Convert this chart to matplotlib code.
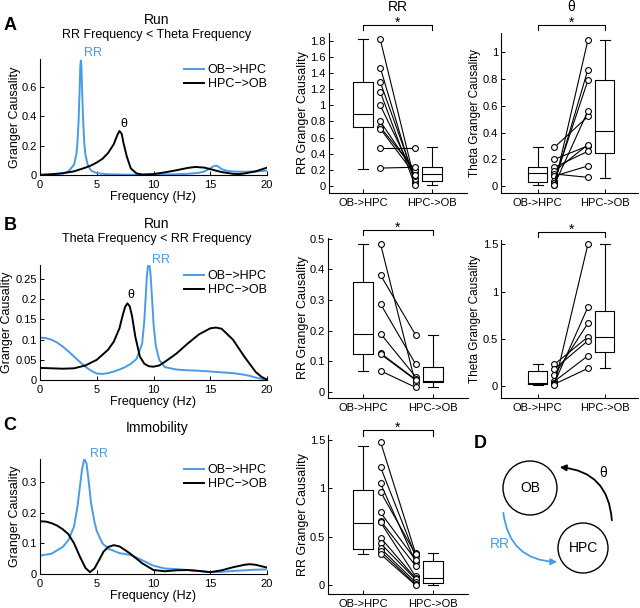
import numpy as np
import matplotlib
matplotlib.use('Agg')
import matplotlib.pyplot as plt
from matplotlib.patches import Circle, FancyArrowPatch
from matplotlib.ticker import FuncFormatter

plt.rcParams['font.family'] = ['Liberation Sans', 'DejaVu Sans']

BLUE = '#4a9be6'
W, H = 640, 608

# ---------------- spectra (Granger causality vs frequency) ----------------
# A: run, RR < theta
a_blue_f = [0, 1, 2, 2.5, 3.0, 3.2, 3.3, 3.4, 3.5, 3.55, 3.6, 3.65, 3.7, 3.8, 3.9, 4.0, 4.2, 4.5, 5, 6, 8, 10, 12, 13, 14, 14.5, 15, 15.3, 15.5, 15.7, 16, 16.5, 17, 18, 19, 20]
a_blue_v = [0.001, 0.003, 0.01, 0.025, 0.07, 0.14, 0.22, 0.37, 0.6, 0.74, 0.78, 0.74, 0.6, 0.37, 0.22, 0.14, 0.07, 0.03, 0.012, 0.005, 0.002, 0.003, 0.005, 0.008, 0.015, 0.025, 0.045, 0.06, 0.064, 0.058, 0.04, 0.028, 0.024, 0.022, 0.024, 0.03]
a_black_f = [0, 1, 2, 3, 4, 4.5, 5, 5.5, 6, 6.5, 6.8, 7.0, 7.2, 7.35, 7.65, 8.0, 8.5, 9, 10, 11, 12, 13, 13.7, 14.5, 15, 16, 17, 17.5, 18, 19, 20]
a_black_v = [0.001, 0.005, 0.012, 0.025, 0.05, 0.065, 0.085, 0.11, 0.15, 0.21, 0.27, 0.30, 0.28, 0.22, 0.125, 0.045, 0.011, 0.003, 0.006, 0.018, 0.032, 0.048, 0.055, 0.05, 0.04, 0.02, 0.008, 0.006, 0.01, 0.025, 0.05]

# B: run, theta < RR
b_blue_f = [0, 0.5, 1, 1.5, 2, 2.5, 3, 3.5, 4, 4.5, 5, 5.5, 6, 6.5, 7, 7.5, 8, 8.5, 9.0, 9.2, 9.3, 9.4, 9.5, 9.6, 9.7, 9.8, 9.9, 10.0, 10.2, 10.5, 11, 12, 13, 14, 15, 16, 17, 18, 18.5, 19, 19.5, 20]
b_blue_v = [0.105, 0.104, 0.100, 0.093, 0.083, 0.071, 0.058, 0.045, 0.033, 0.023, 0.016, 0.015, 0.017, 0.021, 0.026, 0.032, 0.04, 0.052, 0.09, 0.15, 0.2, 0.25, 0.28, 0.287, 0.275, 0.235, 0.19, 0.14, 0.085, 0.05, 0.032, 0.026, 0.024, 0.023, 0.021, 0.019, 0.017, 0.013, 0.01, 0.006, 0.003, 0.001]
b_black_f = [0, 1, 2, 3, 4, 5, 6, 6.5, 7, 7.3, 7.5, 7.7, 7.9, 8.1, 8.4, 8.8, 9.2, 9.6, 10, 10.5, 11, 12, 13, 14, 15, 15.5, 16, 17, 18, 19, 19.5, 20]
b_black_v = [0.030, 0.029, 0.028, 0.029, 0.036, 0.05, 0.075, 0.095, 0.128, 0.162, 0.181, 0.19, 0.183, 0.16, 0.107, 0.058, 0.04, 0.034, 0.033, 0.036, 0.045, 0.065, 0.09, 0.113, 0.128, 0.13, 0.127, 0.1, 0.058, 0.02, 0.008, 0.001]

# C: immobility
c_blue_f = [0, 1, 2, 2.5, 3, 3.3, 3.5, 3.7, 3.9, 4.1, 4.3, 4.5, 4.8, 5, 5.5, 6, 7, 8, 9, 10, 11, 12, 13, 14, 15, 16, 17, 18, 19, 20]
c_blue_v = [0.06, 0.066, 0.088, 0.11, 0.155, 0.22, 0.28, 0.34, 0.376, 0.36, 0.3, 0.23, 0.17, 0.14, 0.1, 0.083, 0.068, 0.062, 0.045, 0.027, 0.018, 0.016, 0.013, 0.01, 0.006, 0.007, 0.01, 0.012, 0.014, 0.015]
c_black_f = [0, 0.5, 1, 1.5, 2, 2.5, 3, 3.5, 4, 4.4, 4.8, 5.2, 5.6, 6, 6.5, 7, 7.5, 8, 9, 10, 11, 12, 13, 14, 15, 16, 17, 18, 18.5, 19, 20]
c_black_v = [0.172, 0.171, 0.166, 0.158, 0.146, 0.13, 0.1, 0.058, 0.02, 0.006, 0.018, 0.045, 0.073, 0.088, 0.094, 0.09, 0.078, 0.065, 0.035, 0.013, 0.009, 0.012, 0.013, 0.01, 0.006, 0.012, 0.022, 0.03, 0.032, 0.03, 0.021]

# ---------------- paired values (OB->HPC, HPC->OB) ----------------
a_rr_ob = [1.82, 1.47, 1.29, 1.17, 1.0, 0.80, 0.73, 0.71, 0.47, 0.22]
a_rr_hpc = [0.06, 0.03, 0.09, 0.01, 0.12, 0.17, 0.20, 0.14, 0.47, 0.23]
a_th_ob = [0.29, 0.20, 0.14, 0.11, 0.09, 0.075, 0.04, 0.02, 0.01, 0.005]
a_th_hpc = [0.52, 0.30, 0.26, 0.31, 0.065, 0.15, 0.79, 0.87, 0.56, 1.09]
b_rr_ob = [0.484, 0.382, 0.287, 0.19, 0.126, 0.123, 0.068]
b_rr_hpc = [0.027, 0.186, 0.091, 0.049, 0.04, 0.038, 0.014]
b_th_ob = [0.23, 0.18, 0.116, 0.05, 0.035, 0.02, 0.01]
b_th_hpc = [0.52, 0.48, 0.664, 0.32, 0.836, 0.187, 1.5]
c_rr_ob = [1.48, 1.22, 1.05, 0.965, 0.75, 0.665, 0.65, 0.49, 0.43, 0.38, 0.35, 0.32]
c_rr_hpc = [0.33, 0.30, 0.24, 0.32, 0.26, 0.20, 0.09, 0.07, 0.06, 0.03, 0.01, 0.0]

# box statistics: (whislo, q1, med, q3, whishi)
a_rr_box = [(0.21, 0.73, 0.89, 1.29, 1.82), (0.01, 0.054, 0.15, 0.23, 0.48)]
a_th_box = [(0.007, 0.03, 0.095, 0.14, 0.29), (0.06, 0.25, 0.41, 0.79, 1.09)]
b_rr_box = [(0.068, 0.124, 0.19, 0.358, 0.484), (0.016, 0.03, 0.036, 0.082, 0.186)]
b_th_box = [(0.015, 0.02, 0.03, 0.16, 0.23), (0.187, 0.36, 0.52, 0.79, 1.5)]
c_rr_box = [(0.32, 0.37, 0.64, 0.98, 1.44), (0.0, 0.024, 0.076, 0.248, 0.33)]

groups = ['OB->HPC', 'HPC->OB']

fig = plt.figure(figsize=(W / 100, H / 100), dpi=100)


def px_axes(x0, y0, x1, y1):
    return fig.add_axes([x0 / W, 1 - y1 / H, (x1 - x0) / W, (y1 - y0) / H])


fmt = FuncFormatter(lambda v, p: '%g' % round(v, 3))


def style(ax):
    for s in ['top', 'right']:
        ax.spines[s].set_visible(False)
    for s in ['left', 'bottom']:
        ax.spines[s].set_linewidth(0.8)
    ax.tick_params(direction='in', length=3, width=0.7, labelsize=8)
    ax.tick_params(axis='y', pad=2)
    ax.yaxis.set_major_formatter(fmt)


def spectrum(ax, bf, bv, kf, kv, ymax, yticks, rr_xy, th_xy=None, labx=-0.084):
    ax.plot(bf, bv, color=BLUE, lw=1.4, label='OB−>HPC')
    ax.plot(kf, kv, color='black', lw=1.4, label='HPC−>OB')
    ax.set_xlim(0, 20)
    ax.set_ylim(0, ymax)
    ax.set_xticks([0, 5, 10, 15, 20])
    ax.set_yticks(yticks)
    style(ax)
    ax.set_xlabel('Frequency (Hz)', fontsize=9, labelpad=1)
    ax.set_ylabel('Granger Causality', fontsize=9)
    ax.yaxis.set_label_coords(labx, 0.5)
    ax.legend(loc='upper right', frameon=False, fontsize=9, handlelength=1.6,
              handletextpad=0.3, borderaxespad=0, labelspacing=0.15,
              bbox_to_anchor=(1.02, 1.0))
    ax.text(*rr_xy, 'RR', color=BLUE, fontsize=9, ha='center', va='center', clip_on=False)
    if th_xy is not None:
        ax.text(*th_xy, 'θ', color='black', fontsize=9, ha='center', va='center')


def paired(ax, box, ob, hpc, ylim, yticks, ylab, labx, xlim=(0.5, 2.5), br=(1.05, 1.02),
           labsize=9):
    stats = [dict(whislo=b[0], q1=b[1], med=b[2], q3=b[3], whishi=b[4], fliers=[])
             for b in box]
    lp = dict(color='black', lw=0.8)
    ax.bxp(stats, positions=[1, 2], widths=0.28, showfliers=False,
           boxprops=lp, whiskerprops=lp, capprops=lp, medianprops=lp,
           capwidths=0.15, manage_ticks=False)
    for a, b in zip(ob, hpc):
        ax.plot([1.25, 1.75], [a, b], color='black', lw=0.8, marker='o', ms=4.2,
                mfc='white', mec='black', mew=0.8)
    ax.set_xlim(*xlim)
    ax.set_ylim(*ylim)
    ax.set_xticks([1, 2])
    ax.set_xticklabels(groups, fontsize=8)
    ax.set_yticks(yticks)
    style(ax)
    ax.set_ylabel(ylab, fontsize=labsize)
    ax.yaxis.set_label_coords(labx, 0.5)
    tr = ax.get_xaxis_transform()
    ax.plot([1, 1, 2, 2], [br[1], br[0], br[0], br[1]], color='black', lw=0.8,
            transform=tr, clip_on=False)
    ax.text(1.5, br[0] - 0.012, '*', transform=tr, ha='center', va='baseline', fontsize=10)


# ---------------- row A ----------------
ax = px_axes(40, 59, 267, 175)
spectrum(ax, a_blue_f, a_blue_v, a_black_f, a_black_v, 0.79, [0, 0.2, 0.4, 0.6],
         (4.7, 0.83), (7.4, 0.35))

ax = px_axes(328.5, 33, 466.5, 193)
paired(ax, a_rr_box, a_rr_ob, a_rr_hpc, (-0.09, 1.9), np.arange(0, 1.81, 0.2),
       'RR Granger Causality', -0.141)
ax.text(1.5, 1.16, 'RR', transform=ax.get_xaxis_transform(), ha='center', va='center', fontsize=10)

ax = px_axes(501, 33, 638, 193)
paired(ax, a_th_box, a_th_ob, a_th_hpc, (-0.052, 1.144), np.arange(0, 1.01, 0.2),
       'Theta Granger Causality', -0.145, xlim=(0.45, 2.5), labsize=8.5)
ax.text(1.5, 1.16, 'θ', transform=ax.get_xaxis_transform(), ha='center', va='center', fontsize=10)

# ---------------- row B ----------------
ax = px_axes(40, 265, 267, 380)
spectrum(ax, b_blue_f, b_blue_v, b_black_f, b_black_v, 0.285,
         [0, 0.05, 0.1, 0.15, 0.2, 0.25], (10.7, 0.298), (8.0, 0.21), labx=-0.12)

ax = px_axes(328, 238, 468, 398)
paired(ax, b_rr_box, b_rr_ob, b_rr_hpc, (-0.021, 0.503), np.arange(0, 0.51, 0.1),
       'RR Granger Causality', -0.136)

ax = px_axes(501, 240, 638, 398)
paired(ax, b_th_box, b_th_ob, b_th_hpc, (-0.127, 1.547), [0, 0.5, 1, 1.5],
       'Theta Granger Causality', -0.145, xlim=(0.45, 2.5), labsize=8.5)

# ---------------- row C ----------------
ax = px_axes(40, 459, 267, 574)
spectrum(ax, c_blue_f, c_blue_v, c_black_f, c_black_v, 0.375,
         [0, 0.1, 0.2, 0.3], (5.2, 0.392))

ax = px_axes(328, 435, 468, 594)
paired(ax, c_rr_box, c_rr_ob, c_rr_hpc, (-0.093, 1.551), [0, 0.5, 1, 1.5],
       'RR Granger Causality', -0.136, br=(1.03, 0.995))

# ---------------- titles and panel letters ----------------
fig.text(157 / W, 1 - 20 / H, 'Run', ha='center', va='center', fontsize=10)
fig.text(157 / W, 1 - 35 / H, 'RR Frequency < Theta Frequency', ha='center', va='center', fontsize=9)
fig.text(157 / W, 1 - 224 / H, 'Run', ha='center', va='center', fontsize=10)
fig.text(157 / W, 1 - 239 / H, 'Theta Frequency < RR Frequency', ha='center', va='center', fontsize=9)
fig.text(157 / W, 1 - 428 / H, 'Immobility', ha='center', va='center', fontsize=10)
for lab, y in [('A', 25), ('B', 225), ('C', 425)]:
    fig.text(10 / W, 1 - y / H, lab, ha='center', va='center', fontsize=13, fontweight='bold')

# ---------------- D: schematic ----------------
axd = px_axes(460, 425, 640, 608)
axd.set_xlim(460, 640)
axd.set_ylim(608, 425)
axd.axis('off')
axd.add_patch(Circle((530, 488), 27, fill=False, lw=1.0, ec='black'))
axd.add_patch(Circle((583, 548), 25, fill=False, lw=1.0, ec='black'))
axd.text(530, 488, 'OB', ha='center', va='center', fontsize=10)
axd.text(583, 548, 'HPC', ha='center', va='center', fontsize=10)
axd.add_patch(FancyArrowPatch((612, 523), (557, 467), connectionstyle='arc3,rad=0.45',
                              arrowstyle='-|>', mutation_scale=9, lw=1.3, color='black'))
axd.add_patch(FancyArrowPatch((503, 510), (560, 562), connectionstyle='arc3,rad=0.45',
                              arrowstyle='-|>', mutation_scale=9, lw=1.3, color=BLUE))
axd.text(603, 473, 'θ', ha='center', va='center', fontsize=10)
axd.text(500, 544, 'RR', ha='center', va='center', fontsize=10, color=BLUE)
axd.text(480, 443, 'D', ha='center', va='center', fontsize=13, fontweight='bold')

fig.savefig('out.png', dpi=100)
